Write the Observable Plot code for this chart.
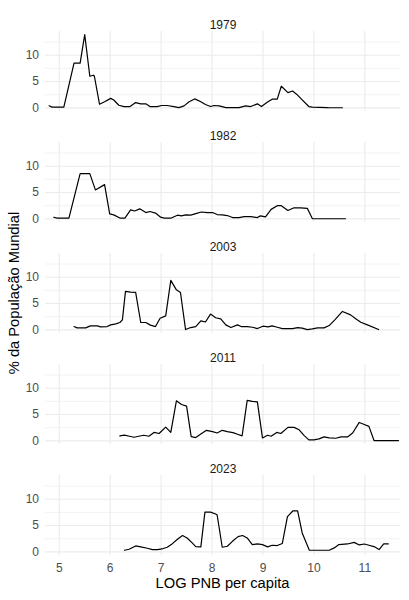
<!DOCTYPE html>
<html>
<head>
<meta charset="utf-8">
<script src="https://cdn.jsdelivr.net/npm/d3@7"></script>
<script src="https://cdn.jsdelivr.net/npm/@observablehq/plot@0.6"></script>
<style>
  html, body { margin: 0; padding: 0; background: #ffffff; }
  #chart svg { display: block; }
</style>
</head>
<body>
<div id="chart"></div>
<script>
const years = ["1979", "1982", "2003", "2011", "2023"];
const xTicks = [5, 6, 7, 8, 9, 10, 11];
const yTicks = [0, 5, 10];
const yMinor = [2.5, 7.5, 12.5];

const s1979 = [[4.80,0.4],[4.86,0.15],[5.09,0.15],[5.29,8.5],[5.41,8.5],[5.50,13.9],[5.60,6.0],[5.67,6.2],[5.69,6.0],[5.79,0.7],[5.89,1.15],[6.01,1.8],[6.07,1.5],[6.17,0.5],[6.27,0.25],[6.39,0.25],[6.50,1.0],[6.60,0.76],[6.70,0.76],[6.78,0.25],[6.92,0.25],[7.01,0.45],[7.12,0.45],[7.25,0.25],[7.35,0.05],[7.45,0.38],[7.55,1.15],[7.66,1.7],[7.78,1.15],[7.87,0.64],[7.97,0.25],[8.04,0.45],[8.14,0.38],[8.27,0.06],[8.53,0.06],[8.66,0.38],[8.76,0.25],[8.89,0.76],[8.97,0.25],[9.09,1.1],[9.18,1.65],[9.28,1.65],[9.36,4.1],[9.49,2.9],[9.58,3.2],[9.66,2.6],[9.75,1.7],[9.90,0.25],[9.97,0.13],[10.26,0.06],[10.30,0.02],[10.56,0.02]];

const s1982 = [[4.89,0.3],[4.96,0.13],[5.19,0.13],[5.41,8.6],[5.60,8.6],[5.71,5.5],[5.89,6.5],[5.99,0.95],[6.07,0.76],[6.20,0.13],[6.29,0.13],[6.40,1.7],[6.48,1.5],[6.58,1.9],[6.70,1.2],[6.78,1.4],[6.89,1.1],[6.99,0.32],[7.06,0.13],[7.19,0.13],[7.32,0.7],[7.40,0.57],[7.48,0.76],[7.58,0.7],[7.68,1.0],[7.79,1.3],[7.91,1.2],[8.01,1.2],[8.10,0.82],[8.20,0.76],[8.30,0.63],[8.40,0.25],[8.53,0.25],[8.63,0.44],[8.76,0.44],[8.89,0.25],[8.95,0.57],[9.05,0.38],[9.16,1.8],[9.28,2.5],[9.36,2.5],[9.49,1.6],[9.61,2.1],[9.74,2.1],[9.87,2.0],[9.97,0.02],[10.62,0.02]];

const s2003 = [[5.29,0.63],[5.35,0.38],[5.52,0.38],[5.61,0.76],[5.75,0.76],[5.81,0.57],[5.94,0.63],[6.01,0.95],[6.11,1.14],[6.19,1.4],[6.24,1.9],[6.30,7.3],[6.40,7.15],[6.50,7.1],[6.60,1.4],[6.70,1.4],[6.79,0.9],[6.89,0.63],[6.98,2.2],[7.09,2.65],[7.19,9.4],[7.30,7.6],[7.38,7.1],[7.48,0.06],[7.58,0.44],[7.68,0.63],[7.78,1.7],[7.87,1.5],[7.97,3.0],[8.07,2.3],[8.17,2.1],[8.27,0.95],[8.37,0.44],[8.50,0.95],[8.57,0.63],[8.69,0.63],[8.79,0.5],[8.89,0.25],[9.00,0.7],[9.10,0.57],[9.18,0.76],[9.28,0.5],[9.38,0.25],[9.58,0.25],[9.68,0.44],[9.77,0.32],[9.87,0.06],[9.97,0.19],[10.07,0.38],[10.20,0.38],[10.30,0.82],[10.41,1.9],[10.56,3.5],[10.72,2.85],[10.82,2.1],[10.92,1.45],[11.05,0.95],[11.27,0.06]];

const s2011 = [[6.19,0.94],[6.28,1.1],[6.38,0.88],[6.47,0.69],[6.56,0.88],[6.66,1.06],[6.76,0.88],[6.86,1.6],[6.96,1.4],[7.09,2.6],[7.19,1.6],[7.30,7.6],[7.40,6.9],[7.50,6.6],[7.59,0.8],[7.68,0.63],[7.78,1.3],[7.89,2.0],[8.01,1.75],[8.10,1.5],[8.20,2.0],[8.30,1.75],[8.41,1.56],[8.50,1.25],[8.59,0.94],[8.69,7.7],[8.79,7.5],[8.89,7.4],[8.99,0.56],[9.09,1.06],[9.16,0.88],[9.27,1.6],[9.35,1.4],[9.49,2.56],[9.61,2.56],[9.71,2.1],[9.81,1.0],[9.90,0.19],[10.00,0.19],[10.10,0.38],[10.20,0.75],[10.30,0.56],[10.43,0.5],[10.53,0.75],[10.66,0.75],[10.76,1.5],[10.89,3.5],[10.99,3.1],[11.08,2.75],[11.18,0.06],[11.66,0.06]];

const s2023 = [[6.28,0.3],[6.37,0.5],[6.50,1.13],[6.60,0.94],[6.73,0.69],[6.83,0.44],[6.93,0.44],[7.04,0.63],[7.12,0.88],[7.20,1.38],[7.32,2.4],[7.42,3.1],[7.51,2.64],[7.61,1.7],[7.68,1.0],[7.78,0.94],[7.86,7.55],[7.97,7.55],[8.07,7.2],[8.10,7.0],[8.20,0.88],[8.30,1.07],[8.40,2.0],[8.51,2.9],[8.60,3.1],[8.69,2.64],[8.79,1.38],[8.89,1.5],[8.99,1.38],[9.09,0.94],[9.18,1.26],[9.28,1.2],[9.38,1.6],[9.48,6.7],[9.59,7.8],[9.68,7.8],[9.77,3.6],[9.91,0.31],[10.04,0.31],[10.30,0.31],[10.40,0.75],[10.49,1.38],[10.66,1.5],[10.79,1.8],[10.89,1.32],[10.99,1.5],[11.08,1.26],[11.18,1.0],[11.28,0.44],[11.37,1.5],[11.46,1.5]];

const series = [s1979, s1982, s2003, s2011, s2023];
const rows = years.flatMap((yr, i) => series[i].map(([x, y]) => ({year: yr, x, y})));

const chart = Plot.plot({
  width: 409,
  height: 600,
  marginTop: 30,
  marginBottom: 44,
  marginLeft: 45,
  marginRight: 9,
  style: {fontFamily: "'Liberation Sans', Arial, sans-serif", fontSize: "12px", color: "#4d4d4d", background: "white"},
  x: {domain: [4.73, 11.70]},
  y: {domain: [-0.69, 14.5]},
  fy: {domain: years, paddingInner: 0.28, paddingOuter: 0, axis: null},
  marks: [
    Plot.ruleY(yMinor, {stroke: "#ebebeb", strokeWidth: 0.6}),
    Plot.ruleY(yTicks, {stroke: "#ebebeb", strokeWidth: 1.1}),
    Plot.ruleX(xTicks, {stroke: "#ebebeb", strokeWidth: 1.1}),
    Plot.axisY({ticks: yTicks, tickSize: 0, tickPadding: 6.5, tickFormat: d => String(d), label: null}),
    Plot.axisX({ticks: xTicks, tickSize: 0, tickPadding: 8, tickFormat: d => String(d), label: null}),
    Plot.line(rows, {x: "x", y: "y", fy: "year", stroke: "black", strokeWidth: 1.2}),
    Plot.text(years, {fy: d => d, text: d => d, frameAnchor: "top", dy: -11, fill: "#1a1a1a", fontSize: 12})
  ]
});

document.getElementById("chart").appendChild(chart);

const svg = d3.select(chart);
svg.append("text")
  .attr("transform", "translate(14,293) rotate(-90)")
  .attr("text-anchor", "middle")
  .attr("dy", "0.35em")
  .attr("fill", "#000000")
  .style("font-size", "14.7px")
  .style("font-family", "'Liberation Sans', Arial, sans-serif")
  .text("% da População Mundial");
svg.append("text")
  .attr("x", 222.5)
  .attr("y", 588)
  .attr("text-anchor", "middle")
  .attr("fill", "#000000")
  .style("font-size", "14.7px")
  .style("font-family", "'Liberation Sans', Arial, sans-serif")
  .text("LOG PNB per capita");
</script>
</body>
</html>
